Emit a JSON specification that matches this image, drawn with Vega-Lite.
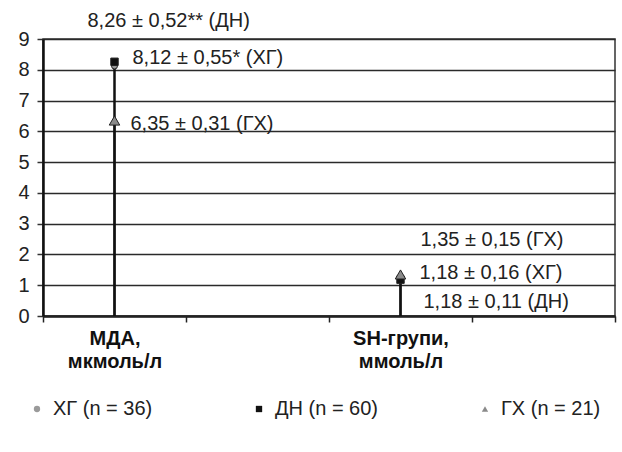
{
  "$schema": "https://vega.github.io/schema/vega-lite/v6.json",
  "autosize": "none",
  "width": 572,
  "height": 277,
  "padding": {"left": 43, "top": 39, "right": 7, "bottom": 136},
  "background": "white",
  "config": {
    "font": "Liberation Sans",
    "view": {"stroke": "#333", "strokeWidth": 1.5}
  },
  "data": {
    "values": [
      {"cat": "MDA", "group": "ХГ (n = 36)", "key": "mda_xg", "value": 8.12, "label": "8,12 ± 0,55* (ХГ)"},
      {"cat": "MDA", "group": "ДН (n = 60)", "key": "mda_dn", "value": 8.26, "label": "8,26 ± 0,52** (ДН)"},
      {"cat": "MDA", "group": "ГХ (n = 21)", "key": "mda_gx", "value": 6.35, "label": "6,35 ± 0,31 (ГХ)"},
      {"cat": "SH", "group": "ХГ (n = 36)", "key": "sh_xg", "value": 1.18, "label": "1,18 ± 0,16 (ХГ)"},
      {"cat": "SH", "group": "ДН (n = 60)", "key": "sh_dn", "value": 1.18, "label": "1,18 ± 0,11 (ДН)"},
      {"cat": "SH", "group": "ГХ (n = 21)", "key": "sh_gx", "value": 1.35, "label": "1,35 ± 0,15 (ГХ)"}
    ]
  },
  "encoding": {
    "x": {
      "field": "cat", "type": "nominal",
      "scale": {"domain": ["MDA", "e1", "SH", "e2"], "paddingInner": 0, "paddingOuter": 0},
      "axis": {
        "title": null, "labelAngle": 0, "tickBand": "extent",
        "labelExpr": "datum.value == 'MDA' ? ['МДА,', 'мкмоль/л'] : datum.value == 'SH' ? ['SH-групи,', 'ммоль/л'] : ''",
        "labelFont": "Liberation Sans", "labelFontWeight": "bold", "labelFontSize": 20, "labelColor": "#111",
        "labelLineHeight": 23, "labelPadding": 6,
        "domainColor": "#222", "domainWidth": 2.5, "tickColor": "#222", "tickWidth": 1.5, "tickSize": 6
      }
    },
    "y": {
      "field": "value", "type": "quantitative",
      "scale": {"domain": [0, 9], "nice": false},
      "axis": {
        "title": null, "values": [0,1,2,3,4,5,6,7,8,9],
        "labelFont": "Liberation Sans", "labelFontSize": 20, "labelColor": "#222", "labelPadding": 8,
        "domainColor": "#111", "domainWidth": 2.5, "tickColor": "#333", "tickWidth": 1.5, "tickSize": 6,
        "grid": true, "gridColor": "#2a2a2a", "gridWidth": 1.4
      }
    }
  },
  "layer": [
    {
      "mark": {"type": "rule", "color": "#111", "strokeWidth": 2},
      "encoding": {"y2": {"datum": 0}}
    },
    {
      "mark": {"type": "point", "filled": true, "stroke": "#222", "strokeWidth": 1, "opacity": 1},
      "encoding": {
        "shape": {"field": "group", "type": "nominal", "scale": {"domain": ["ХГ (n = 36)", "ДН (n = 60)", "ГХ (n = 21)"], "range": ["circle", "square", "triangle-up"]},
          "legend": {"orient": "none", "legendX": -16, "legendY": 360, "direction": "horizontal", "title": null,
            "labelFont": "Liberation Sans", "labelFontSize": 20, "labelColor": "#222", "columnPadding": 96, "labelOffset": 6, "symbolSize": 40, "symbolStrokeColor": "#222", "symbolStrokeWidth": 1}},
        "fill": {"field": "group", "type": "nominal", "scale": {"domain": ["ХГ (n = 36)", "ДН (n = 60)", "ГХ (n = 21)"], "range": ["#9a9a9a", "#111111", "#8a8a8a"]}},
        "size": {"condition": [{"test": "datum.group == 'ГХ (n = 21)'", "value": 110}, {"test": "datum.group == 'ДН (n = 60)'", "value": 55}], "value": 35}
      }
    },
    {
      "transform": [{"filter": "datum.key == 'mda_dn'"}],
      "mark": {"type": "text", "align": "left", "baseline": "middle", "dx": -27, "dy": -41, "fontSize": 20, "color": "#222"},
      "encoding": {"text": {"field": "label"}}
    },
    {
      "transform": [{"filter": "datum.key == 'mda_xg'"}],
      "mark": {"type": "text", "align": "left", "baseline": "middle", "dx": 18, "dy": -8, "fontSize": 20, "color": "#222"},
      "encoding": {"text": {"field": "label"}}
    },
    {
      "transform": [{"filter": "datum.key == 'mda_gx'"}],
      "mark": {"type": "text", "align": "left", "baseline": "middle", "dx": 16, "dy": 3, "fontSize": 20, "color": "#222"},
      "encoding": {"text": {"field": "label"}}
    },
    {
      "transform": [{"filter": "datum.key == 'sh_gx'"}],
      "mark": {"type": "text", "align": "left", "baseline": "middle", "dx": 20, "dy": -34, "fontSize": 20, "color": "#222"},
      "encoding": {"text": {"field": "label"}}
    },
    {
      "transform": [{"filter": "datum.key == 'sh_xg'"}],
      "mark": {"type": "text", "align": "left", "baseline": "middle", "dx": 19, "dy": -7, "fontSize": 20, "color": "#222"},
      "encoding": {"text": {"field": "label"}}
    },
    {
      "transform": [{"filter": "datum.key == 'sh_dn'"}],
      "mark": {"type": "text", "align": "left", "baseline": "middle", "dx": 23, "dy": 22, "fontSize": 20, "color": "#222"},
      "encoding": {"text": {"field": "label"}}
    }
  ]
}
